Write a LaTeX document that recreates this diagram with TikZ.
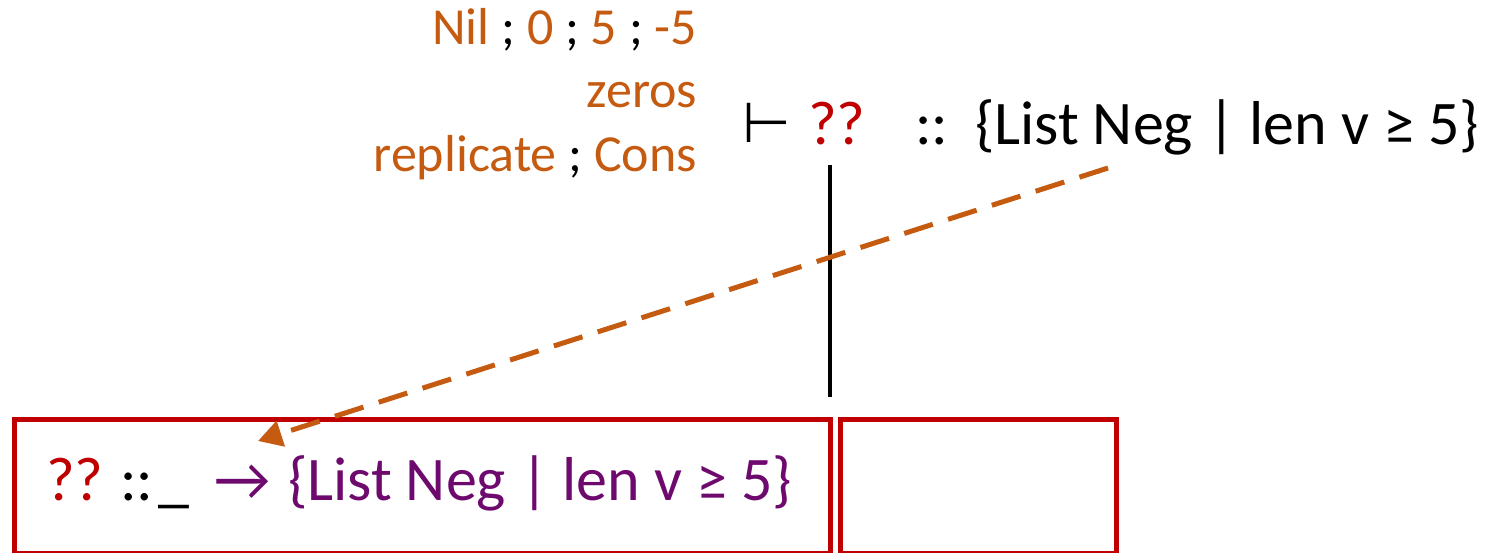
\documentclass[tikz,border=0pt]{standalone}
\usepackage{fontspec}
\setmainfont{Carlito}
\newfontfamily\symfont{DejaVu Sans}
\usetikzlibrary{arrows.meta}
\definecolor{myred}{HTML}{C00000}
\definecolor{myorange}{HTML}{C55A11}
\definecolor{mypurple}{HTML}{6E0A6E}
\tikzset{
  txt/.style={inner sep=0pt, outer sep=0pt},
  small/.style={txt, font=\fontsize{52}{60}\selectfont},
  big/.style={txt, font=\fontsize{62}{72}\selectfont},
  redbox/.style={draw=myred, line width=4.5pt},
  dasharrow/.style={draw=myorange, line width=5pt, dash pattern=on 30pt off 16pt, -{Triangle[width=26pt,length=24pt]}},
}
\begin{document}
\begin{tikzpicture}[x=1pt,y=-1pt]
\useasboundingbox (0,0) rectangle (1508,553);
% top-left candidate list
\node[small, anchor=base east, text=myorange] (l1) at (697,45) {Nil \textcolor{black}{;} 0 \textcolor{black}{;} 5 \textcolor{black}{;} -5};
\node[small, anchor=base east, text=myorange] (l2) at (697,108) {zeros};
\node[small, anchor=base east, text=myorange] (l3) at (697,172) {replicate \textcolor{black}{;} Cons};
% goal
\node[big, anchor=base west] (turn) at (742,143) {\symfont\fontsize{56}{60}\selectfont ⊢};
\node[big, anchor=base west, text=myred] (hole) at (808,145) {??};
\node[big, anchor=base west] (colons) at (915,145) {::};
\node[big, anchor=base west] (goal) at (975,145) {\{List Neg | len v ≥ 5\}};
% boxes
\node[redbox, minimum width=816pt, minimum height=134pt, anchor=north west, inner sep=0pt] (box1) at (12,417) {};
\node[redbox, minimum width=276pt, minimum height=134pt, anchor=north west, inner sep=0pt] (box2) at (838,417) {};
% bottom text
\node[big, anchor=base west, text=myred] (bhole) at (46,500) {??};
\node[big, anchor=base west] (bcol) at (120,500) {::};
\node[big, anchor=base west] (bwild) at (158,500) {\_};
\node[big, anchor=base west, text=mypurple] (barrow) at (214,500) {→};
\node[big, anchor=base west, text=mypurple] (btype) at (288,500) {\{List Neg | len v ≥ 5\}};
% connectors
\coordinate (vtop) at (830,165);
\coordinate (vbot) at (830,397);
\draw[line width=4pt] (vtop) -- (vbot);
\coordinate (dstart) at (1108,168);
\coordinate (dend) at (258,441);
\draw[dasharrow] (dstart) -- (dend);
\end{tikzpicture}
\end{document}
